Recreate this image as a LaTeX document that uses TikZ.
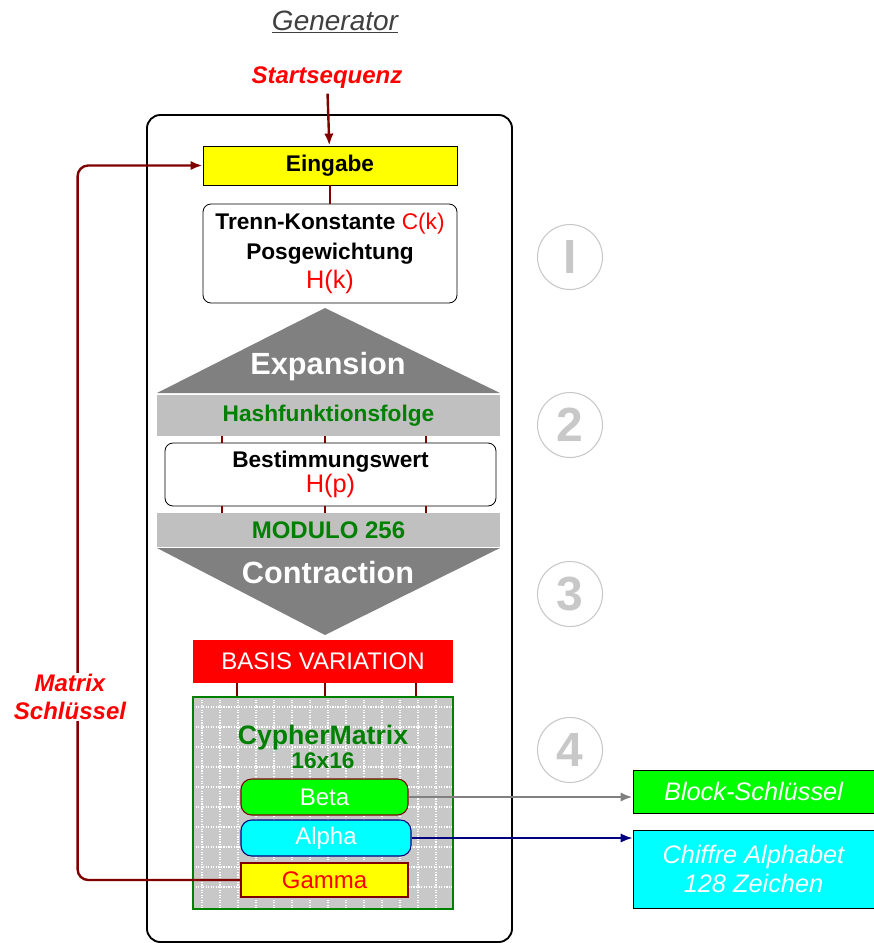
\documentclass[tikz,border=0pt]{standalone}
\usepackage{fontspec}
\setmainfont{Liberation Sans}
\usetikzlibrary{arrows.meta}
\usetikzlibrary{calc}
\tikzset{>={Latex[length=9pt,width=7pt]}}
\definecolor{cmred}{RGB}{255,0,0}
\definecolor{cmdarkred}{RGB}{128,0,0}
\definecolor{cmgray}{RGB}{128,128,128}
\definecolor{cmband}{RGB}{192,192,192}
\definecolor{cmgreen}{RGB}{0,128,0}
\definecolor{cmlime}{RGB}{0,255,0}
\definecolor{cmcyan}{RGB}{0,255,255}
\definecolor{cmyellow}{RGB}{255,255,0}
\definecolor{cmnavy}{RGB}{0,0,128}
\definecolor{cmlight}{RGB}{200,200,200}
\definecolor{cmtitle}{RGB}{64,64,64}
\tikzstyle{conn}=[draw=cmdarkred,line width=1.8pt]
\tikzstyle{plainbox}=[inner sep=0pt,draw=black,line width=0.6pt]
\tikzstyle{bigtext}=[text=white,font=\fontsize{23}{26}\selectfont\bfseries]
\tikzstyle{bandtext}=[text=cmgreen,font=\fontsize{17}{20}\selectfont\bfseries]
\tikzstyle{redtext}=[text=cmred,font=\fontsize{18}{21}\selectfont\bfseries\itshape]
\tikzstyle{outtext}=[text=white,font=\fontsize{19}{22}\selectfont\itshape,align=center]
\tikzstyle{keytext}=[font=\fontsize{18}{21}\selectfont]
\tikzstyle{stepnum}=[circle,draw=cmlight,line width=0.8pt,minimum size=48.75pt,inner sep=0pt,text=cmlight,font=\fontsize{36}{36}\selectfont\bfseries]
\tikzstyle{gridline}=[draw=white,densely dotted,line width=0.9pt]

\begin{document}
\begin{tikzpicture}[x=0.75pt,y=-0.75pt]
    \useasboundingbox (0,0) rectangle (874,943);
    \draw[line width=1.4pt,rounded corners=10pt] (147,115) rectangle (512,942);

    \node[text=cmtitle,font=\fontsize{21}{24}\selectfont\itshape] (gen) at (335,22) {\underline{Generator}};
    \node[redtext] (start) at (327,78) {Startsequenz};

    \node[plainbox,fill=cmyellow,minimum width=190.5pt,minimum height=29.25pt,font=\fontsize{17}{20}\selectfont\bfseries] (eingabe) at (330,165.5) {Eingabe};
    \node[plainbox,fill=white,rounded corners=6pt,minimum width=190.5pt,minimum height=74.25pt,align=center,font=\fontsize{17}{22}\selectfont\bfseries] (trenn) at (330,253.5)
        {Trenn-Konstante \textcolor{cmred}{\mdseries C(k)}\\Posgewichtung\\\textcolor{cmred}{\mdseries\fontsize{19}{22}\selectfont H(k)}};
    \draw[conn,->] (start) -- (eingabe);
    \draw[conn] (eingabe) -- (trenn);

    % expansion
    \fill[cmgray] (157,393) -- (325,308) -- (500,393) -- cycle;
    \node[bigtext] (expansion) at (328,367) {Expansion};
    \node[inner sep=0pt,fill=cmband,minimum width=257.25pt,minimum height=30.75pt] (hash) at (328.5,415.5) {};
    \node[bandtext] at (hash) {Hashfunktionsfolge};
    \node[plainbox,fill=white,rounded corners=6pt,minimum width=248.25pt,minimum height=47.25pt,align=center,font=\fontsize{17}{19}\selectfont\bfseries] (best) at (330.5,474.5)
        {Bestimmungswert\\\textcolor{cmred}{\mdseries\fontsize{19}{19}\selectfont H(p)}};
    \node[inner sep=0pt,fill=cmband,minimum width=257.25pt,minimum height=25.5pt] (modulo) at (328.5,530) {};
    \node[bandtext,font=\fontsize{18}{20}\selectfont\bfseries] at (modulo) {MODULO 256};
    \foreach \x in {222,325,426}{
        \draw[conn,line width=1.2pt] (hash.south -| \x,0) -- (best.north -| \x,0);
        \draw[conn,line width=1.2pt] (best.south -| \x,0) -- (modulo.north -| \x,0);
    }

    % contraction
    \fill[cmgray] (157,548) -- (500,548) -- (325,635) -- cycle;
    \node[bigtext] (contraction) at (328,573) {Contraction};

    \node[inner sep=0pt,fill=cmred,minimum width=195pt,minimum height=32.25pt,text=white,keytext] (basis) at (323,661.5) {BASIS VARIATION};

    % cyphermatrix
    \fill[cmlight] (193,697) rectangle (453,909);
    \foreach \x in {202,220,...,450}
        \draw[gridline] (\x,697) -- (\x,909);
    \foreach \y in {707,727,...,905}
        \draw[gridline] (193,\y) -- (453,\y);
    \node[inner sep=0pt,draw=cmgreen,line width=1pt,minimum width=195pt,minimum height=159pt] (matrix) at (323,803) {};
    \node[text=cmgreen,align=center,font=\fontsize{20}{18}\selectfont\bfseries] (cmname) at (323,747) {CypherMatrix\\\fontsize{17}{18}\selectfont 16x16};
    \foreach \x in {237,325,416}
        \draw[conn] (basis.south -| \x,0) -- (matrix.north -| \x,0);

    \node[inner sep=0pt,draw=cmdarkred,line width=0.8pt,fill=cmlime,rounded corners=8pt,minimum width=125.25pt,minimum height=27pt,text=white,keytext] (beta) at (324.5,797) {Beta};
    \node[inner sep=0pt,draw=cmnavy,line width=0.8pt,fill=cmcyan,rounded corners=8pt,minimum width=127.5pt,minimum height=27pt,text=white,keytext] (alpha) at (326,838) {Alpha};
    \node[inner sep=0pt,draw=cmdarkred,line width=1pt,fill=cmyellow,minimum width=125.25pt,minimum height=25.5pt,text=cmred,keytext] (gamma) at (324.5,880) {Gamma};

    % outputs
    \node[plainbox,fill=cmlime,minimum width=180.75pt,minimum height=32.25pt,outtext] (block) at (753.5,791.5) {Block-Schlüssel};
    \node[plainbox,fill=cmcyan,minimum width=180.75pt,minimum height=58.5pt,outtext,font=\fontsize{19}{22}\selectfont\itshape] (chiffre) at (753.5,869) {Chiffre Alphabet\\128 Zeichen};
    \draw[->,draw=cmgray,line width=1.8pt] (beta.east) -- (beta.east -| block.west);
    \draw[->,draw=cmnavy,line width=1.5pt] (alpha.east) -- (alpha.east -| chiffre.west);

    % key feedback
    \draw[conn,->,rounded corners=8pt] (gamma.west) -| ($(eingabe.west)+(-125,0)$) -- (eingabe.west);
    \node[redtext,fill=white,align=center,inner sep=1pt] (mkey) at (70,697) {Matrix\\Schlüssel};

    \node[stepnum] (s1) at (570,257) {I};
    \node[stepnum] (s2) at (570,425) {2};
    \node[stepnum] (s3) at (570,594) {3};
    \node[stepnum] (s4) at (570,750) {4};
\end{tikzpicture}
\end{document}
